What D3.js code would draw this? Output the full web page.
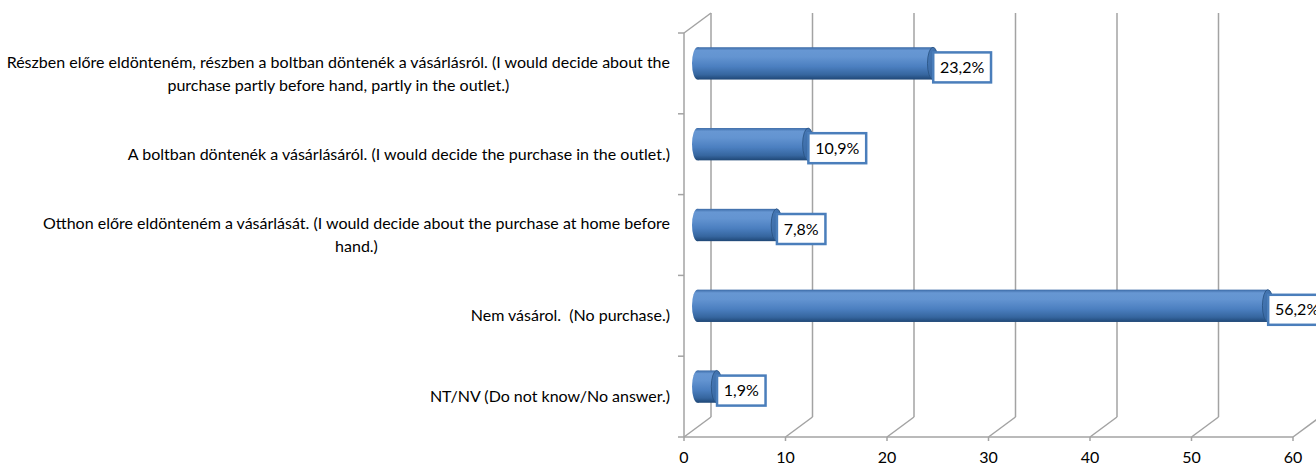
<!DOCTYPE html>
<html>
<head>
<meta charset="utf-8">
<script src="https://cdn.jsdelivr.net/npm/d3@7"></script>
<style>
  html, body { margin: 0; padding: 0; background: #fff; overflow: hidden; }
  svg { display: block; }
  text { font-family: Lato, "Noto Sans", sans-serif; fill: #000; white-space: pre; }
</style>
</head>
<body>
<svg id="chart" width="1316" height="465"></svg>
<script>
// Survey answers (top to bottom) and their shares in percent
const categories = [
  "Részben előre eldönteném, részben a boltban döntenék a vásárlásról. (I would decide about the\npurchase partly before hand, partly in the outlet.)",
  "A boltban döntenék a vásárlásáról. (I would decide the purchase in the outlet.)",
  "Otthon előre eldönteném a vásárlását. (I would decide about the purchase at home before\nhand.)",
  "Nem vásárol.  (No purchase.)",
  "NT/NV (Do not know/No answer.)"
];
const values = [23.2, 10.9, 7.8, 56.2, 1.9];
const valueLabels = ["23,2%", "10,9%", "7,8%", "56,2%", "1,9%"];
const xTicks = [0, 10, 20, 30, 40, 50, 60];

const svg = d3.select("#chart");

// Plot area (front plane) and the depth offset of the back wall
const plotLeft = 684, plotRight = 1293, plotTop = 33, plotBottom = 437;
const depthX = 27, depthY = -20;
const fontSize = 16;

const x = d3.scaleLinear().domain([0, 60]).range([plotLeft, plotRight]);
const y = d3.scaleBand().domain(d3.range(categories.length)).range([plotTop, plotBottom]);

const gridColor = "#a3a3a3";

// Gradients for the cylinder body and its end cap
const defs = svg.append("defs");
const body = defs.append("linearGradient").attr("id", "cylBody")
  .attr("x1", 0).attr("y1", 0).attr("x2", 0).attr("y2", 1);
[["0%", "#3b6aa6"], ["10%", "#6797d3"], ["30%", "#6394d1"], ["60%", "#4b7fc0"], ["85%", "#36669f"], ["100%", "#1f4776"]]
  .forEach(([o, c]) => body.append("stop").attr("offset", o).attr("stop-color", c));
const cap = defs.append("linearGradient").attr("id", "cylCap")
  .attr("x1", 0).attr("y1", 0).attr("x2", 1).attr("y2", 1);
[["0%", "#4a7cba"], ["100%", "#2e5d95"]]
  .forEach(([o, c]) => cap.append("stop").attr("offset", o).attr("stop-color", c));

const grid = svg.append("g").attr("stroke", gridColor).attr("stroke-width", 1.5).attr("fill", "none");

// Back wall gridlines
grid.selectAll("line.back").data(xTicks).join("line")
  .attr("class", "back")
  .attr("x1", d => x(d) + depthX).attr("x2", d => x(d) + depthX)
  .attr("y1", plotTop + depthY).attr("y2", plotBottom + depthY);

// Floor: diagonals from each tick to the back wall
grid.selectAll("line.floor").data(xTicks).join("line")
  .attr("class", "floor")
  .attr("x1", d => x(d)).attr("y1", plotBottom)
  .attr("x2", d => x(d) + depthX).attr("y2", plotBottom + depthY);

// Front edge of the floor with tick marks
grid.append("line").attr("x1", plotLeft).attr("x2", plotRight).attr("y1", plotBottom).attr("y2", plotBottom);
grid.selectAll("line.xtick").data(xTicks).join("line")
  .attr("class", "xtick")
  .attr("x1", d => x(d)).attr("x2", d => x(d))
  .attr("y1", plotBottom).attr("y2", plotBottom + 4);

// Left wall front edge, its top edge and category ticks
grid.append("line").attr("x1", plotLeft).attr("x2", plotLeft).attr("y1", plotTop).attr("y2", plotBottom);
grid.append("line").attr("x1", plotLeft).attr("y1", plotTop).attr("x2", plotLeft + depthX).attr("y2", plotTop + depthY);
const bounds = d3.range(categories.length + 1).map(i => plotTop + i * y.step());
grid.selectAll("line.ytick").data(bounds).join("line")
  .attr("class", "ytick")
  .attr("x1", plotLeft - 6).attr("x2", plotLeft)
  .attr("y1", d => d).attr("y2", d => d);

// X tick labels
svg.append("g").selectAll("text").data(xTicks).join("text")
  .attr("x", d => x(d)).attr("y", plotBottom + 26)
  .attr("text-anchor", "middle")
  .attr("font-size", fontSize)
  .text(d => d);

// Category labels: lines centred in a block whose right edge sits at the axis
const lineH = 23;
const catG = svg.append("g");
categories.forEach((c, i) => {
  const lines = c.split("\n");
  const t = catG.append("text").attr("font-size", fontSize).attr("text-anchor", "middle");
  const spans = lines.map(l => t.append("tspan").text(l));
  const widths = spans.map(s => s.node().getComputedTextLength());
  const blockW = d3.max(widths);
  const cx = plotLeft - 14 - blockW / 2;
  const cy = y(i) + y.bandwidth() / 2;
  spans.forEach((s, k) => {
    s.attr("x", cx)
     .attr("y", cy + (k - (lines.length - 1) / 2) * lineH)
     .attr("dy", "0.35em");
  });
});

// Cylinder bars, placed halfway into the depth
const barH = y.bandwidth() * 0.4;
const rx = 5.5;
const bars = svg.append("g");
values.forEach((v, i) => {
  const cy = y(i) + y.bandwidth() / 2 + depthY / 2;
  const x0 = x(0) + depthX / 2;
  const x1 = x(v) + depthX / 2;
  const g = bars.append("g");
  g.append("ellipse").attr("cx", x0).attr("cy", cy).attr("rx", rx).attr("ry", barH / 2)
    .attr("fill", "url(#cylBody)");
  g.append("rect").attr("x", x0).attr("y", cy - barH / 2).attr("width", x1 - x0).attr("height", barH)
    .attr("fill", "url(#cylBody)");
  g.append("ellipse").attr("cx", x1).attr("cy", cy).attr("rx", rx).attr("ry", barH / 2)
    .attr("fill", "url(#cylCap)").attr("stroke", "#27507f").attr("stroke-width", 0.8);
});

// Value labels in boxed callouts at the bar ends
const labels = svg.append("g");
values.forEach((v, i) => {
  const cy = y(i) + y.bandwidth() / 2 + depthY / 2 + 4;
  const bx = x(v) + depthX / 2 - 1;
  const g = labels.append("g");
  const rect = g.append("rect");
  const t = g.append("text").attr("font-size", fontSize).attr("dy", "0.35em")
    .attr("x", bx + 8).attr("y", cy).text(valueLabels[i]);
  const w = t.node().getComputedTextLength() + 16;
  const h = 30;
  rect.attr("x", bx + 1.25).attr("y", cy - h / 2).attr("width", w - 2.5).attr("height", h)
    .attr("fill", "#fff").attr("stroke", "#4a7ebb").attr("stroke-width", 2.5);
});
</script>
</body>
</html>
